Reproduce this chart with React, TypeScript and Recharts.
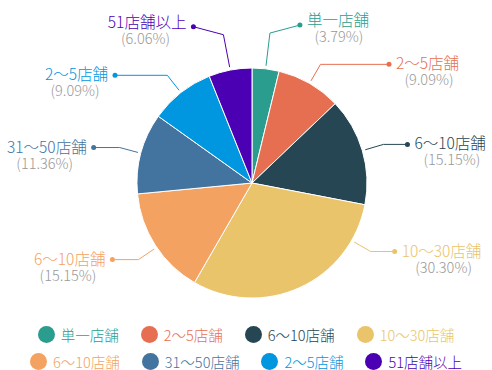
import React from 'react';
import { PieChart, Pie, Cell, Legend } from 'recharts';

const storeTypes = ['単一店舗', '2〜5店舗', '6〜10店舗', '10〜30店舗', '6〜10店舗', '31〜50店舗', '2〜5店舗', '51店舗以上'];
const storeCounts = [5, 12, 20, 40, 20, 15, 12, 8];
const sliceColors = ['#2a9d8f', '#e76f51', '#264653', '#e9c46a', '#f4a261', '#43749f', '#0096e0', '#4b00b4'];

const data = storeTypes.map((name, i) => ({ name, value: storeCounts[i] }));

const FONT = '"Noto Sans CJK JP", "Noto Sans", sans-serif';
const RAD = Math.PI / 180;

// rough text width, good enough to centre the percentage under the name
function textWidth(s: string, size: number) {
  let w = 0;
  for (const ch of s) w += ch.charCodeAt(0) > 0x2e00 ? 1 : 0.56;
  return w * size;
}

function renderLabel(props: any) {
  const { cx, cy, midAngle, outerRadius, fill, name, percent } = props;
  let a = midAngle;
  while (a > 180) a -= 360;
  while (a <= -180) a += 360;
  const right = Math.cos(a * RAD) >= 0;
  // lower labels sit a little below the horizontal
  if (a < 0) a = right ? Math.max(a, -30) : -146;
  const s = Math.sin(a * RAD);
  const c = Math.cos(a * RAD);
  const nearTop = s > 0 && Math.abs(c) < 0.3;
  const pt = (r: number) => ({ x: cx + r * c, y: cy - r * s });
  const p0 = pt(outerRadius + 3);
  const p1 = pt(outerRadius + (nearTop ? 36 : 22));
  let dx: number;
  let dy: number;
  if (nearTop) {
    dx = right ? p1.x + 30 : p1.x - 30;
    dy = p1.y - 8;
  } else {
    dx = right ? Math.max(p1.x + 24, cx + outerRadius + 22) : Math.min(p1.x - 26, cx - outerRadius - 22);
    dy = p1.y;
  }
  const nameW = textWidth(name, 16);
  const nameX = right ? dx + 7 : dx - 7;
  const mid = right ? nameX + nameW / 2 : nameX - nameW / 2;
  const nameY = dy - (nearTop ? 6 : 2);
  return (
    <g>
      <polyline points={`${p0.x},${p0.y} ${p1.x},${p1.y} ${dx},${dy}`} fill="none" stroke={fill} strokeWidth={1} />
      <circle cx={dx} cy={dy} r={2.5} fill={fill} />
      <text x={nameX} y={nameY} textAnchor={right ? 'start' : 'end'} dominantBaseline="central" fill={fill} fontSize={15.5} fontWeight={300} fontFamily={FONT}>
        {name}
      </text>
      <text x={mid} y={nameY + 16.5} textAnchor="middle" dominantBaseline="central" fill="#999" fontSize={14.5} fontWeight={300} fontFamily={FONT}>
        {`(${(percent * 100).toFixed(2)}%)`}
      </text>
    </g>
  );
}

function renderLegend() {
  return (
    <div style={{ display: 'flex', flexWrap: 'wrap', justifyContent: 'center', columnGap: 22, rowGap: 7, fontFamily: FONT, fontSize: 14.5, fontWeight: 300 }}>
      {storeTypes.map((name, i) => (
        <div key={i} style={{ display: 'flex', alignItems: 'center', height: 20 }}>
          <span style={{ width: 17, height: 17, borderRadius: '50%', background: sliceColors[i], marginRight: 6 }} />
          <span style={{ color: sliceColors[i] }}>{name}</span>
        </div>
      ))}
    </div>
  );
}

export default function App() {
  return (
    <div style={{ position: 'absolute', left: 0, top: 0, background: '#fff' }}>
      <PieChart width={492} height={370} margin={{ top: 0, right: 0, bottom: 0, left: 0 }}>
        <Pie
          data={data}
          dataKey="value"
          nameKey="name"
          cx={252}
          cy={183}
          outerRadius={115}
          startAngle={90}
          endAngle={-270}
          stroke="#fff"
          strokeWidth={1}
          label={renderLabel}
          labelLine={false}
          isAnimationActive={false}
        >
          {data.map((d, i) => (
            <Cell key={i} fill={sliceColors[i]} />
          ))}
        </Pie>
        <Legend content={renderLegend} wrapperStyle={{ top: 324, left: 0, width: 492, bottom: 'auto' }} />
      </PieChart>
    </div>
  );
}
